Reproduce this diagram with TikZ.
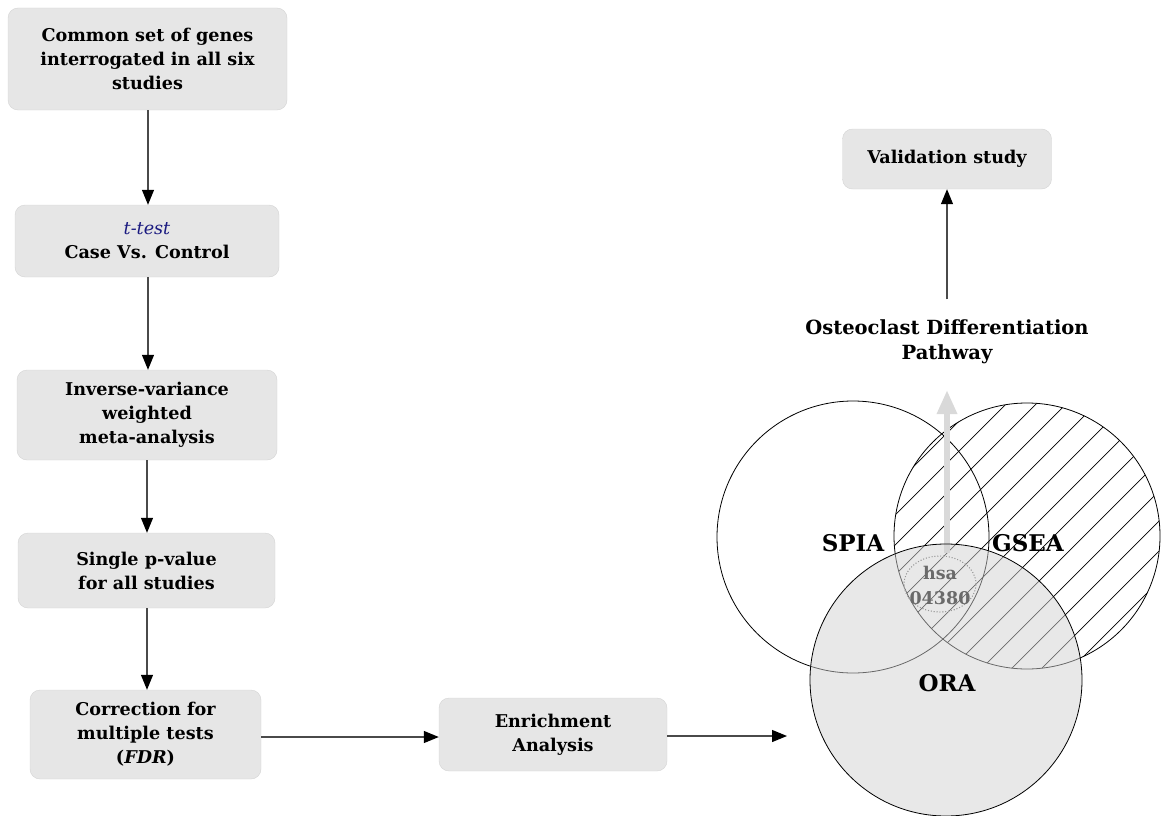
\documentclass[tikz,border=0pt]{standalone}
\usepackage{fontspec}
\setmainfont{DejaVu Serif}
\usetikzlibrary{arrows.meta,shapes.geometric}
\definecolor{boxfill}{HTML}{E6E6E6}
\definecolor{boxdraw}{HTML}{D4D4D4}
\definecolor{linec}{HTML}{4A4A4A}
\definecolor{ttestblue}{HTML}{1A1A80}
\definecolor{orafill}{HTML}{D1D1D1}
\definecolor{hsagray}{HTML}{6A6A6A}
\definecolor{bigarrow}{HTML}{D9D9D9}
\begin{document}
\begin{tikzpicture}[x=1pt,y=-1pt,
  stepbox/.style={draw=boxdraw, fill=boxfill, rounded corners=10pt, align=center,
    font=\fontsize{17.6}{24}\selectfont\bfseries, inner sep=0pt},
  flow/.style={draw=linec, line width=1.2pt, -{Triangle[length=15pt,width=12pt,color=black]}},
  venntext/.style={font=\fontsize{23}{26}\selectfont\bfseries},
  circ/.style={draw=black, line width=0.8pt},
]
\useasboundingbox (0,0) rectangle (1162,816);

% left column
\node[stepbox, minimum width=279pt, minimum height=102pt] (common) at (147.5,59)
  {Common set of genes\\interrogated in all six\\studies};
\node[stepbox, minimum width=264pt, minimum height=72pt] (ttest) at (147,241)
  {{\color{ttestblue}\mdseries\itshape t-test}\\Case Vs. Control};
\node[stepbox, minimum width=260pt, minimum height=90pt] (meta) at (147,415)
  {Inverse-variance\\weighted\\meta-analysis};
\node[stepbox, minimum width=257pt, minimum height=75pt] (single) at (146.5,570.5)
  {Single p-value\\for all studies};
\node[stepbox, minimum width=231pt, minimum height=89pt] (fdr) at (145.5,734.5)
  {Correction for\\multiple tests\\(\textit{FDR})};
\node[stepbox, minimum width=228pt, minimum height=73pt] (enrich) at (553,734.5)
  {Enrichment\\Analysis};
\node[stepbox, minimum width=209pt, minimum height=60pt] (valid) at (947,159)
  {Validation study};
\node[font=\fontsize{19.5}{25}\selectfont\bfseries, align=center] (osteo) at (947,342)
  {Osteoclast Differentiation\\Pathway};

\draw[flow] (common.south -| 148,0) -- (ttest.north -| 148,0);
\draw[flow] (ttest.south -| 148,0) -- (meta.north -| 148,0);
\draw[flow] (meta.south -| 147,0) -- (single.north -| 147,0);
\draw[flow] (single.south -| 147,0) -- (fdr.north -| 147,0);
\draw[flow] (fdr.east |- 0,737) -- (enrich.west |- 0,737);
\coordinate (vennin) at (787,736);
\draw[flow] (enrich.east |- 0,736) -- (vennin);
\draw[flow] ([yshift=17pt]osteo.north -| valid.south) -- (valid.south);

% Venn diagram
\coordinate (spiac) at (853,537);
\coordinate (gseac) at (1027,536);
\coordinate (orac) at (946,680);

\begin{scope}
  \clip (gseac) circle[radius=133];
  \foreach \c in {1380,1410,...,1770}
    \draw[line width=0.7pt] (\c-700,700) -- (\c-380,380);
\end{scope}
\draw[circ] (spiac) circle[radius=136];
\draw[circ] (gseac) circle[radius=133];

\node[draw=hsagray!70, dotted, line width=0.9pt, ellipse, minimum width=72pt,
  minimum height=56pt, inner sep=0pt] (hsa) at (940,584) {};
\coordinate (arrowtip) at (947,390);
\draw[draw=bigarrow, line width=6pt,
  -{Triangle[length=24pt,width=19pt]}] (947,553) -- (arrowtip);

\fill[orafill, fill opacity=0.5] (orac) circle[radius=136];
\draw[circ] (orac) circle[radius=136];
\node[draw=hsagray!70, dotted, line width=0.9pt, ellipse, minimum width=72pt,
  minimum height=56pt, inner sep=0pt] at (hsa) {};
\node[font=\fontsize{17.5}{25}\selectfont\bfseries, text=hsagray, align=center]
  (hsatext) at (940,585) {hsa\\04380};

\node[venntext] (spia) at (853,543) {SPIA};
\node[venntext] (gsea) at (1028,543) {GSEA};
\node[venntext] (ora) at (947,683) {ORA};
\end{tikzpicture}
\end{document}
